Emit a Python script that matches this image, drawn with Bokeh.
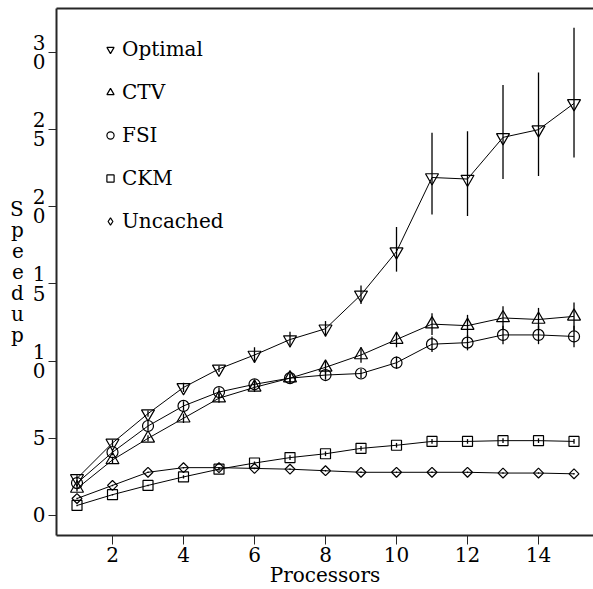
import math
from bokeh.plotting import figure
from bokeh.models import (Range1d, SingleIntervalTicker, FixedTicker, CustomJSTickFormatter,
                          LinearAxis, Legend, LegendItem, ColumnDataSource)
from bokeh.embed import file_html
from bokeh.resources import INLINE

# ---------------- data ----------------
processors = list(range(1, 16))

optimal    = [2.4, 4.7, 6.6, 8.3, 9.5, 10.4, 11.4, 12.1, 14.3, 17.1, 21.9, 21.8, 24.5, 25.0, 26.7]
optimal_lo = [2.2, 4.5, 6.4, 8.0, 9.3, 9.9, 10.9, 11.6, 13.7, 15.8, 19.5, 19.4, 21.8, 22.0, 23.2]
optimal_hi = [2.6, 4.9, 6.8, 8.6, 9.7, 10.9, 11.9, 12.6, 14.9, 18.7, 24.8, 24.9, 27.9, 28.7, 31.6]

ctv    = [1.75, 3.6, 5.0, 6.3, 7.6, 8.3, 8.9, 9.6, 10.4, 11.4, 12.4, 12.3, 12.8, 12.7, 12.9]
ctv_lo = [1.55, 3.4, 4.8, 6.0, 7.3, 8.0, 8.6, 9.2, 9.9, 10.9, 11.7, 11.6, 12.05, 11.95, 12.0]
ctv_hi = [1.95, 3.8, 5.2, 6.6, 7.9, 8.6, 9.2, 10.0, 10.9, 11.9, 13.1, 13.0, 13.55, 13.45, 13.8]

fsi    = [2.1, 4.1, 5.8, 7.1, 8.0, 8.5, 8.9, 9.1, 9.2, 9.9, 11.1, 11.2, 11.7, 11.7, 11.6]
fsi_lo = [1.9, 3.9, 5.5, 6.8, 7.7, 8.2, 8.6, 8.8, 8.9, 9.5, 10.6, 10.7, 11.1, 11.1, 10.9]
fsi_hi = [2.3, 4.3, 6.1, 7.4, 8.3, 8.8, 9.2, 9.4, 9.5, 10.3, 11.6, 11.7, 12.3, 12.3, 12.3]

ckm    = [0.65, 1.35, 1.95, 2.5, 3.0, 3.4, 3.75, 4.0, 4.35, 4.55, 4.8, 4.8, 4.85, 4.85, 4.8]
ckm_lo = [0.6, 1.3, 1.9, 2.4, 2.9, 3.3, 3.6, 3.85, 4.2, 4.4, 4.65, 4.65, 4.7, 4.7, 4.65]
ckm_hi = [0.7, 1.4, 2.0, 2.6, 3.1, 3.5, 3.9, 4.15, 4.5, 4.7, 4.95, 4.95, 5.0, 5.0, 4.95]

uncached    = [1.1, 1.95, 2.8, 3.1, 3.1, 3.05, 3.0, 2.9, 2.8, 2.8, 2.8, 2.8, 2.75, 2.75, 2.7]
uncached_lo = [1.05, 1.9, 2.75, 3.05, 3.05, 3.0, 2.95, 2.85, 2.75, 2.75, 2.75, 2.75, 2.7, 2.7, 2.65]
uncached_hi = [1.15, 2.0, 2.85, 3.15, 3.15, 3.1, 3.05, 2.95, 2.85, 2.85, 2.85, 2.85, 2.8, 2.8, 2.75]

series_names = ["Optimal", "CTV", "FSI", "CKM", "Uncached"]
y_ticks = [0, 5, 10, 15, 20, 25, 30]
x_label = "Processors"
y_label = "Speedup"

# ---------------- figure ----------------
FONT = "DejaVu Serif"
INK = "#000000"
AXIS = "#262626"

p = figure(width=593, height=589, output_backend="svg", toolbar_location=None,
           x_range=Range1d(0.4225, 15.549), y_range=Range1d(-1.296, 32.85),
           min_border_left=56, min_border_right=0, min_border_top=8, min_border_bottom=54)
p.outline_line_color = None
p.grid.visible = False
p.background_fill_color = "white"
p.border_fill_color = "white"

# x axis
xa = p.xaxis[0]
xa.ticker = SingleIntervalTicker(interval=2, num_minor_ticks=0)
xa.axis_label = x_label
xa.axis_line_width = 2
xa.axis_line_color = AXIS
xa.major_tick_in = 0
xa.major_tick_out = 9
xa.minor_tick_out = 0
xa.minor_tick_in = 0
xa.major_tick_line_color = AXIS
xa.major_label_standoff = 2
xa.axis_label_standoff = -2
for prop in ("major_label", "axis_label"):
    setattr(xa, prop + "_text_font", FONT)
    setattr(xa, prop + "_text_font_size", "20px")
    setattr(xa, prop + "_text_color", INK)
xa.axis_label_text_font_style = "normal"

# y axis
ya = p.yaxis[0]
ya.ticker = FixedTicker(ticks=y_ticks)
ya.formatter = CustomJSTickFormatter(code="return String(tick).split('').join('\\n');")
ya.axis_label = "\n".join(list(y_label))
ya.axis_label_orientation = "horizontal"
ya.axis_line_width = 2
ya.axis_line_color = AXIS
ya.major_tick_in = 0
ya.major_tick_out = 8
ya.minor_tick_out = 0
ya.minor_tick_in = 0
ya.major_tick_line_color = AXIS
ya.major_label_standoff = 3
ya.axis_label_standoff = 6
for prop in ("major_label", "axis_label"):
    setattr(ya, prop + "_text_font", FONT)
    setattr(ya, prop + "_text_font_size", "20px")
    setattr(ya, prop + "_text_color", INK)
ya.axis_label_text_font_style = "normal"
ya.major_label_text_line_height = 0.8
ya.axis_label_text_line_height = 0.87

# top border line
top = LinearAxis(ticker=FixedTicker(ticks=[]), major_tick_out=0, major_tick_in=0,
                 minor_tick_out=0, minor_tick_in=0, major_label_text_font_size="0px",
                 axis_line_width=2, axis_line_color=AXIS)
p.add_layout(top, "above")

# ---------------- series ----------------
spec = [
    ("Optimal", optimal, optimal_lo, optimal_hi, "inverted_triangle", 13, 0.0),
    ("CTV", ctv, ctv_lo, ctv_hi, "triangle", 13, 0.0),
    ("FSI", fsi, fsi_lo, fsi_hi, "circle", 11, 0.0),
    ("CKM", ckm, ckm_lo, ckm_hi, "square", 10, 0.0),
    ("Uncached", uncached, uncached_lo, uncached_hi, "square", 7, math.pi / 4),
]

items = []
for name, vals, lo, hi, marker, size, ang in spec:
    src = ColumnDataSource(dict(x=processors, y=vals, lo=lo, hi=hi))
    p.line("x", "y", source=src, line_color=INK, line_width=1)
    p.segment(x0="x", y0="lo", x1="x", y1="hi", source=src, line_color=INK, line_width=1.3)
    r = p.scatter("x", "y", source=src, marker=marker, size=size, angle=ang,
                  fill_color=None, line_color=INK, line_width=1.2)
    if ang == 0.0:
        items.append(LegendItem(label=name, renderers=[r]))
    else:
        # legend key for the rotated-square series: a diamond with one NaN point (not drawn on the plot)
        key = p.scatter(x=[float("nan")], y=[float("nan")], marker="diamond", size=size,
                        fill_color=None, line_color=INK, line_width=1.2)
        items.append(LegendItem(label=name, renderers=[key]))

legend = Legend(items=items, location=(45, 302), padding=0, margin=0, spacing=19,
                glyph_height=24, glyph_width=18, label_height=24, label_standoff=3,
                label_text_font=FONT, label_text_font_size="20px", label_text_color=INK,
                border_line_color=None, background_fill_alpha=0)
p.add_layout(legend)

open("out.html", "w").write(file_html(p, INLINE))
